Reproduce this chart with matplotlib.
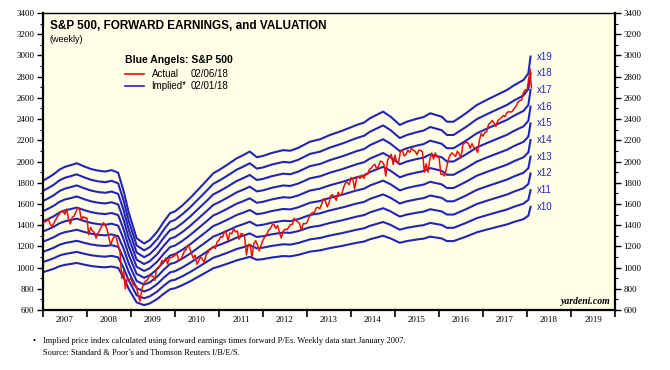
import matplotlib
matplotlib.use("Agg")
import matplotlib.pyplot as plt
from matplotlib.ticker import MultipleLocator, FixedLocator, NullFormatter

eps_dates = [2007.00, 2007.12, 2007.25, 2007.38, 2007.50, 2007.64, 2007.77, 2007.95,
             2008.10, 2008.26, 2008.42, 2008.56, 2008.71, 2008.83, 2008.95, 2009.13,
             2009.30, 2009.43, 2009.60, 2009.75, 2009.89, 2010.00, 2010.17, 2010.34,
             2010.60, 2010.75, 2010.87, 2011.00, 2011.20, 2011.40, 2011.55, 2011.70,
             2011.86, 2012.00, 2012.20, 2012.46, 2012.62, 2012.80, 2013.07, 2013.30,
             2013.52, 2013.80, 2014.13, 2014.30, 2014.43, 2014.73, 2014.90, 2015.11,
             2015.27, 2015.50, 2015.65, 2015.80, 2016.06, 2016.18, 2016.33, 2016.60,
             2016.86, 2017.10, 2017.39, 2017.55, 2017.70, 2017.92, 2018.03, 2018.08]
eps_values = [95.7, 97.2, 99.0, 101.3, 102.6, 103.5, 104.4, 102.7,
              101.5, 100.7, 100.3, 101.0, 99.7, 91.0, 80.0, 67.2,
              64.6, 66.3, 70.5, 75.5, 79.6, 80.5, 83.5, 87.0,
              93.0, 96.5, 99.4, 101.0, 103.8, 106.8, 108.4, 110.2,
              107.4, 108.0, 109.5, 110.9, 110.6, 112.0, 115.1, 116.3,
              118.4, 120.5, 123.4, 124.6, 126.7, 130.0, 127.5, 123.4,
              125.0, 126.5, 127.3, 129.2, 127.5, 125.0, 125.0, 129.0,
              133.3, 136.0, 139.1, 140.8, 143.0, 145.7, 149.0, 157.3]
multiples = [10, 11, 12, 13, 14, 15, 16, 17, 18, 19]

# ── S&P 500, semi-monthly (mid-month, month-end) ─────────────────────────────
spx_start = 1418
spx_2007 = [1431, 1438, 1456, 1407, 1387, 1421, 1452, 1482, 1506, 1531, 1532, 1503,
            1553, 1455, 1411, 1474, 1484, 1527, 1562, 1549, 1451, 1481, 1467, 1468]
spx_2008 = [1310, 1379, 1349, 1331, 1277, 1323, 1351, 1386, 1423, 1400, 1360, 1280,
            1215, 1267, 1298, 1283, 1213, 1166, 899, 969, 800, 896, 880, 903]
spx_2009 = [850, 826, 827, 735, 683, 798, 852, 873, 883, 919, 923, 919,
            880, 987, 1004, 1021, 1068, 1057, 1090, 1036, 1093, 1096, 1102, 1115]
spx_2010 = [1136, 1074, 1075, 1104, 1150, 1169, 1211, 1187, 1136, 1089, 1117, 1031,
            1065, 1102, 1079, 1049, 1125, 1141, 1176, 1183, 1199, 1181, 1242, 1258]
spx_2011 = [1293, 1286, 1343, 1327, 1256, 1326, 1319, 1364, 1337, 1345, 1268, 1321,
            1316, 1292, 1120, 1219, 1216, 1099, 1224, 1253, 1216, 1158, 1212, 1258]
spx_2012 = [1289, 1312, 1351, 1366, 1402, 1408, 1370, 1398, 1330, 1278, 1342, 1362,
            1356, 1379, 1405, 1407, 1465, 1441, 1433, 1412, 1353, 1416, 1413, 1426]
spx_2013 = [1472, 1498, 1520, 1515, 1561, 1569, 1552, 1598, 1650, 1631, 1573, 1606,
            1680, 1686, 1662, 1633, 1709, 1682, 1698, 1757, 1798, 1806, 1781, 1848]
spx_2014 = [1838, 1741, 1838, 1859, 1841, 1872, 1842, 1884, 1877, 1924, 1937, 1960,
            1973, 1931, 1955, 2003, 1998, 1972, 1862, 2018, 2039, 2068, 1972, 2059]
spx_2015 = [1993, 1995, 2096, 2105, 2053, 2068, 2107, 2086, 2122, 2107, 2096, 2063,
            2108, 2104, 2092, 1900, 1978, 1900, 2017, 2079, 2023, 2080, 2043, 2044]
spx_2016 = [1880, 1880, 1864, 1932, 2015, 2060, 2081, 2065, 2047, 2097, 2071, 2037,
            2161, 2174, 2184, 2171, 2125, 2168, 2133, 2126, 2085, 2199, 2262, 2239]
spx_2017 = [2275, 2279, 2349, 2364, 2385, 2363, 2329, 2384, 2400, 2412, 2433, 2423,
            2459, 2470, 2465, 2472, 2500, 2519, 2557, 2575, 2578, 2648, 2675, 2674]
spx_2018_dates = [2018.042, 2018.071, 2018.085, 2018.100]
spx_2018 = [2786, 2873, 2762, 2695]

years = list(range(2007, 2020))
year_blocks = [spx_2007, spx_2008, spx_2009, spx_2010, spx_2011, spx_2012,
               spx_2013, spx_2014, spx_2015, spx_2016, spx_2017]

spx_dates = [2007.0]
spx_values = [spx_start]
for yr, block in zip(years, year_blocks):
    spx_dates += [yr + (i + 1) / 24 for i in range(len(block))]
    spx_values += block
spx_dates += spx_2018_dates
spx_values += spx_2018

BLUE = "#2424b4"
RED = "#e8120c"
SANS = "Liberation Sans"
SERIF = "Liberation Serif"

fig = plt.figure(figsize=(6.7, 3.7), dpi=100, facecolor="white")
ax = fig.add_axes([0.064, 0.162, 0.854, 0.803])
ax.set_facecolor("#fffee6")

for m in multiples:
    ax.plot(eps_dates, [e * m for e in eps_values], color=BLUE, lw=1.5, zorder=2)
    ax.text(eps_dates[-1] + 0.15, eps_values[-1] * m, f"x{m}", color=BLUE,
            fontsize=7, family=SANS, va="center", ha="left")
ax.plot(spx_dates, spx_values, color=RED, lw=1.1, zorder=3)

ax.set_xlim(2007, 2020)
ax.set_ylim(600, 3400)

# axes / ticks
for side in ["left", "right", "bottom"]:
    ax.spines[side].set_linewidth(1.6)
ax.spines["top"].set_linewidth(1.0)

ax.yaxis.set_major_locator(MultipleLocator(200))
ax.yaxis.set_minor_locator(MultipleLocator(100))
ax.tick_params(axis="y", which="both", right=True, labelright=True, direction="out")
ax.tick_params(axis="y", which="major", length=4, width=1, labelsize=6.5, pad=2)
ax.tick_params(axis="y", which="minor", length=2, width=0.8)

ax.xaxis.set_major_locator(FixedLocator(list(range(2007, 2021))))
ax.xaxis.set_major_formatter(NullFormatter())
ax.xaxis.set_minor_locator(FixedLocator([y + 0.5 for y in years]))
ax.set_xticklabels([str(y) for y in years], minor=True)
ax.tick_params(axis="x", which="major", length=5, width=1.2, direction="out")
ax.tick_params(axis="x", which="minor", length=0, labelsize=6.5, pad=4)

for lbl in ax.get_xticklabels(minor=True) + ax.get_yticklabels():
    lbl.set_family(SERIF)
for lbl in ax.yaxis.get_ticklabels(which="major"):
    lbl.set_family(SERIF)

# titles and legend
ax.text(0.012, 0.955, "S&P 500, FORWARD EARNINGS, and VALUATION", transform=ax.transAxes,
        fontsize=8.5, fontweight="bold", family=SANS, va="center")
ax.text(0.012, 0.91, "(weekly)", transform=ax.transAxes, fontsize=6.5, family=SANS,
        va="center")
ax.text(0.144, 0.84, "Blue Angels: S&P 500", transform=ax.transAxes, fontsize=7.5,
        fontweight="bold", family=SANS, va="center")
for row, (name, date, col) in enumerate([("Actual", "02/06/18", RED),
                                          ("Implied*", "02/01/18", BLUE)]):
    yy = 0.795 - row * 0.042
    ax.plot([0.144, 0.176], [yy, yy], transform=ax.transAxes, color=col, lw=1.2)
    ax.text(0.19, yy, name, transform=ax.transAxes, fontsize=7, family=SANS, va="center")
    ax.text(0.258, yy, date, transform=ax.transAxes, fontsize=7, family=SANS, va="center")

ax.text(0.992, 0.03, "yardeni.com", transform=ax.transAxes, fontsize=7,
        fontweight="bold", style="italic", family=SERIF, ha="right", va="center")

# footnote
fig.text(0.048, 0.078, "\u2022", fontsize=6, family=SERIF, va="center")
fig.text(0.064, 0.078, "Implied price index calculated using forward earnings times forward "
         "P/Es. Weekly data start January 2007.", fontsize=6, family=SERIF, va="center")
fig.text(0.064, 0.046, "Source: Standard & Poor\u2019s and Thomson Reuters I/B/E/S.",
         fontsize=6, family=SERIF, va="center")

fig.savefig("out.png", dpi=100, facecolor=fig.get_facecolor())
